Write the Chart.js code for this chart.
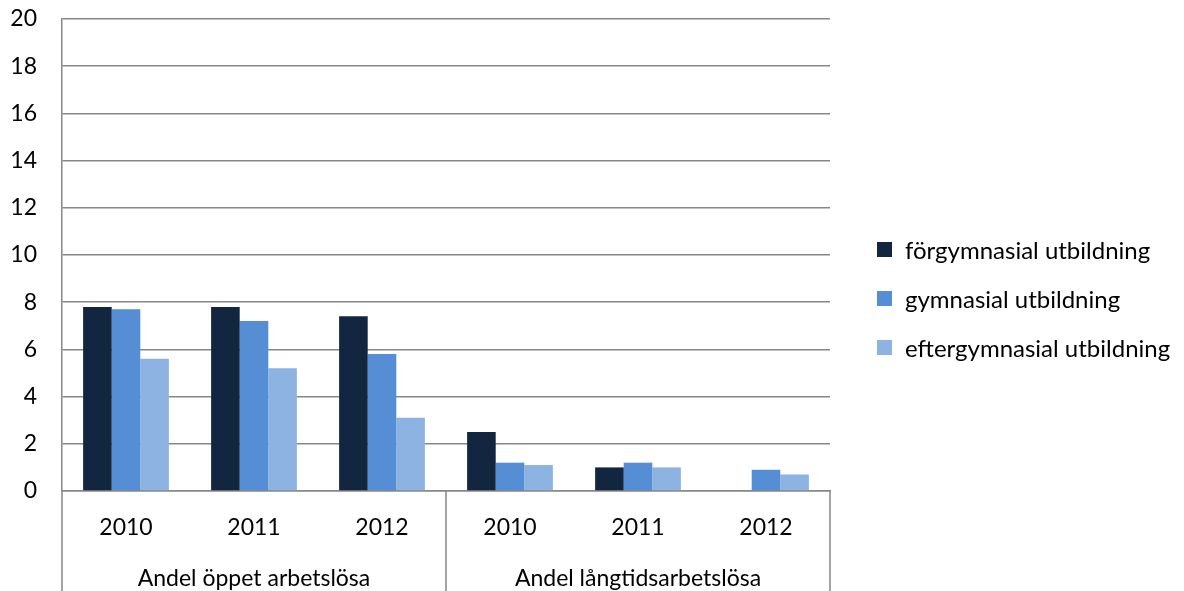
<!DOCTYPE html>
<html>
<head>
<meta charset="utf-8">
<script src="https://cdn.jsdelivr.net/npm/chart.js@4"></script>
<style>
  html, body { margin: 0; padding: 0; background: #fff; }
  #wrap { position: relative; width: 1184px; height: 591px; }
  #legend { position: absolute; left: 877px; top: 235px; font-family: Lato, sans-serif; font-size: 24px; color: #000; }
  .legend-item { display: flex; align-items: center; height: 29px; margin-bottom: 20px; white-space: nowrap; }
  .legend-box { width: 15px; height: 15px; margin-right: 13px; flex: none; }
</style>
</head>
<body>
<div id="wrap"><canvas id="c"></canvas><div id="legend"></div></div>
<script>
// ============ DATA ============
const years = ['2010', '2011', '2012', '2010', '2011', '2012'];
const groups = ['Andel öppet arbetslösa', 'Andel långtidsarbetslösa'];
const forgymnasial = [7.8, 7.8, 7.4, 2.5, 1.0, null];
const gymnasial = [7.7, 7.2, 5.8, 1.2, 1.2, 0.9];
const eftergymnasial = [5.6, 5.2, 3.1, 1.1, 1.0, 0.7];
const yTicks = { min: 0, max: 20, step: 2 };

const FONT = 'Lato';
const FS = 23;
const GRID = '#878787';

// separator lines under the axis (group boundaries)
const groupLines = {
  id: 'groupLines',
  afterDraw(chart) {
    const x = chart.scales.x, ctx = chart.ctx;
    const top = chart.chartArea.bottom;
    const mid = (x.getPixelForTick(2) + x.getPixelForTick(3)) / 2;
    ctx.save();
    ctx.strokeStyle = GRID;
    ctx.lineWidth = 1.5;
    [x.left, mid, x.right].forEach(px => {
      ctx.beginPath();
      ctx.moveTo(px, top);
      ctx.lineTo(px, chart.height);
      ctx.stroke();
    });
    ctx.restore();
  }
};

const chart = new Chart(document.getElementById('c'), {
  type: 'bar',
  data: {
    labels: years,
    datasets: [
      { label: 'förgymnasial utbildning', data: forgymnasial, backgroundColor: '#12263f' },
      { label: 'gymnasial utbildning', data: gymnasial, backgroundColor: '#558ed5' },
      { label: 'eftergymnasial utbildning', data: eftergymnasial, backgroundColor: '#8db3e2' }
    ]
  },
  options: {
    responsive: true,
    maintainAspectRatio: false,
    animation: false,
    categoryPercentage: 0.67,
    barPercentage: 1,
    layout: { padding: { top: 19, left: 0, right: 354, bottom: 0 } },
    plugins: {
      tooltip: { enabled: false },
      legend: { display: false }
    },
    scales: {
      x: {
        grid: { display: false },
        border: { display: true, color: GRID, width: 1.5 },
        ticks: { color: '#000', font: { family: FONT, size: FS }, padding: 15, maxRotation: 0 },
        afterFit(s) { s.height = 62; }
      },
      x2: {
        type: 'category',
        position: 'bottom',
        labels: groups,
        offset: true,
        grid: { display: false },
        border: { display: false },
        ticks: { color: '#000', font: { family: FONT, size: FS }, padding: 4, maxRotation: 0 },
        afterFit(s) { s.height = 38; }
      },
      y: {
        min: yTicks.min,
        max: yTicks.max,
        ticks: { stepSize: yTicks.step, color: '#000', font: { family: FONT, size: FS }, padding: 25 },
        grid: { color: GRID, lineWidth: 1.5, drawTicks: false },
        border: { display: true, color: GRID, width: 1.5 },
        afterFit(s) { s.width = 62; s.paddingTop = 0; s.paddingBottom = 0; }
      }
    }
  },
  plugins: [groupLines]
});

// legend
document.getElementById('legend').innerHTML = chart.data.datasets.map(ds =>
  `<div class="legend-item"><div class="legend-box" style="background:${ds.backgroundColor}"></div><span>${ds.label}</span></div>`
).join('');
</script>
</body>
</html>
